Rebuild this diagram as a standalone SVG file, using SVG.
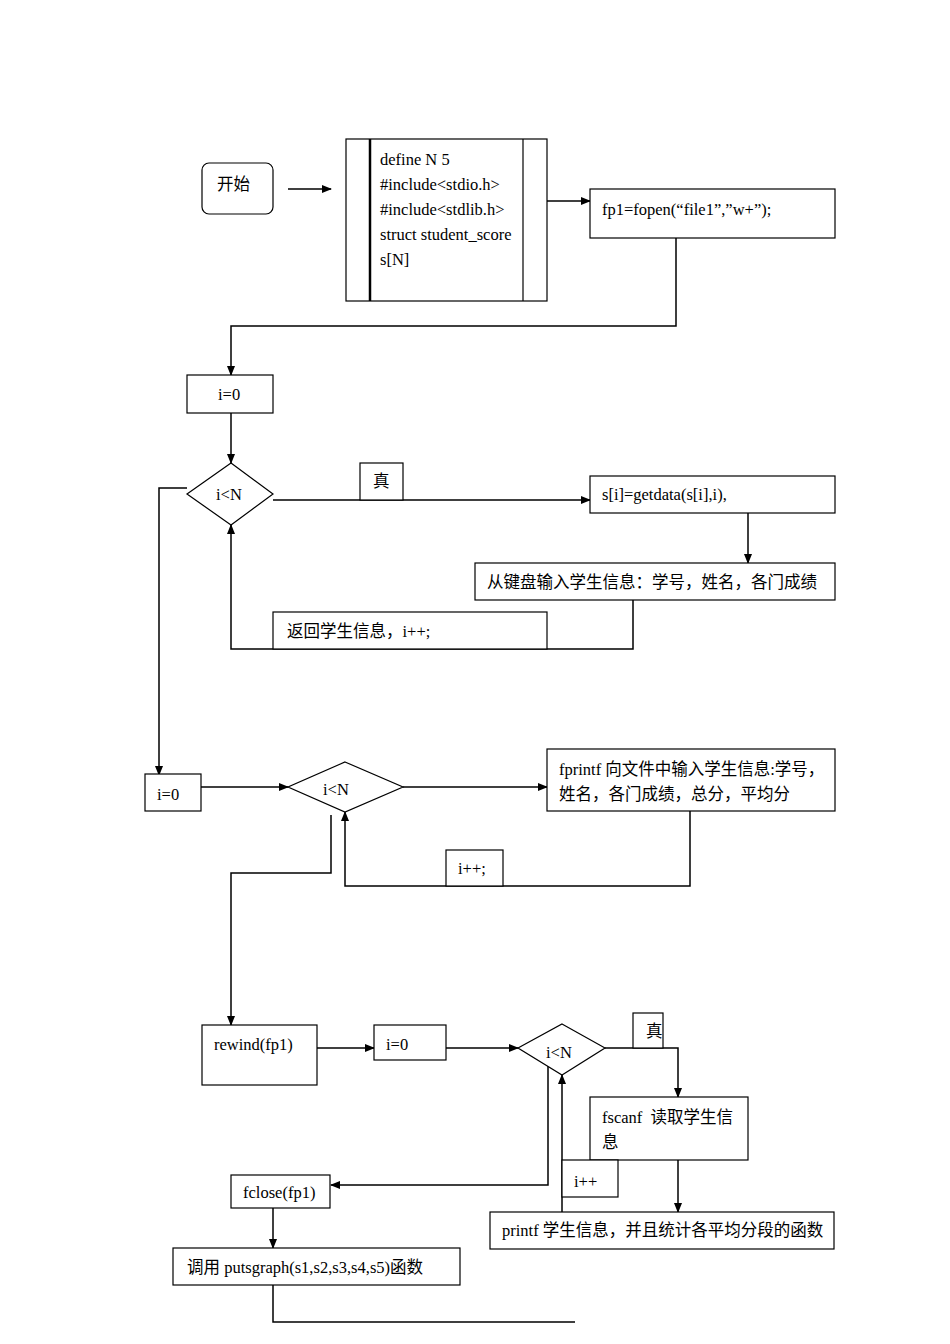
<svg xmlns="http://www.w3.org/2000/svg" width="950" height="1344" viewBox="0 0 950 1344">
<defs>
<marker id="ah" markerWidth="10" markerHeight="8" refX="9" refY="4" orient="auto" markerUnits="userSpaceOnUse"><path d="M0,0 L10,4 L0,8 z" fill="#000"/></marker>
<style>
.b{fill:#fff;stroke:#000;stroke-width:1.2}
.l{fill:none;stroke:#000;stroke-width:1.5}
.a{fill:none;stroke:#000;stroke-width:1.5;marker-end:url(#ah)}
text{font-family:"Liberation Serif","Noto Sans CJK SC",serif;font-size:16.5px;fill:#000}
</style>
</defs>
<rect width="950" height="1344" fill="#fff"/>
<g id="connectors">
<path class="a" d="M288,189 H331"/>
<path class="a" d="M547,201 H590"/>
<path class="a" d="M676,238 V326 H231 V375"/>
<path class="a" d="M231,413 V463"/>
<path class="a" d="M273,500 H590"/>
<path class="a" d="M748,513 V563"/>
<path class="a" d="M633,600 V649 H231 V525"/>
<path class="a" d="M187,488 H159 V775"/>
<path class="a" d="M201,787 H288"/>
<path class="a" d="M403,787 H547"/>
<path class="a" d="M690,811 V886 H345 V812"/>
<path class="a" d="M331,815 V873 H231 V1025"/>
<path class="a" d="M317,1048 H374"/>
<path class="a" d="M446,1048 H518"/>
<path class="a" d="M605,1048 H678 V1097"/>
<path class="a" d="M678,1160 V1212"/>
<path class="a" d="M562,1212 V1075"/>
<path class="a" d="M548,1065 V1185 H331"/>
<path class="a" d="M273,1208 V1248"/>
<path class="l" d="M273,1285 V1322 H575"/>
</g>
<g id="start"><rect class="b" x="202" y="163" width="71" height="51" rx="7"/><text x="217" y="190">开始</text></g>
<g id="defs-box"><rect class="b" x="346" y="139" width="201" height="162"/><line x1="370" y1="139" x2="370" y2="301" stroke="#000" stroke-width="2.5"/><line x1="523" y1="139" x2="523" y2="301" stroke="#000" stroke-width="1.2"/>
<text x="380" y="165">define N 5</text><text x="380" y="190">#include&lt;stdio.h&gt;</text><text x="380" y="215">#include&lt;stdlib.h&gt;</text><text x="380" y="240">struct student_score</text><text x="380" y="265">s[N]</text></g>
<g id="fopen"><rect class="b" x="590" y="189" width="245" height="49"/><text x="602" y="215">fp1=fopen(“file1”,”w+”);</text></g>
<g id="i0a"><rect class="b" x="187" y="375" width="86" height="38"/><text x="218" y="400">i=0</text></g>
<g id="d1"><polygon class="b" points="231,463 273,494 231,525 187,494"/><text x="216" y="500">i&lt;N</text></g>
<g id="t1"><rect class="b" x="360" y="463" width="43" height="37"/><text x="373" y="487">真</text></g>
<g id="getdata"><rect class="b" x="590" y="476" width="245" height="37"/><text x="602" y="500">s[i]=getdata(s[i],i),</text></g>
<g id="kbd"><rect class="b" x="475" y="563" width="360" height="37"/><text x="487" y="588">从键盘输入学生信息：学号，姓名，各门成绩</text></g>
<g id="ret"><rect class="b" x="273" y="612" width="274" height="37"/><text x="287" y="637">返回学生信息，i++;</text></g>
<g id="i0b"><rect class="b" x="145" y="774" width="56" height="37"/><text x="157" y="800">i=0</text></g>
<g id="d2"><polygon class="b" points="345,762 403,787 345,812 288,787"/><text x="323" y="795">i&lt;N</text></g>
<g id="fprintf"><rect class="b" x="547" y="749" width="288" height="62"/><text x="559" y="775">fprintf 向文件中输入学生信息:学号，</text><text x="559" y="800">姓名，各门成绩，总分，平均分</text></g>
<g id="inc2"><rect class="b" x="446" y="850" width="57" height="36"/><text x="458" y="874">i++;</text></g>
<g id="rewind"><rect class="b" x="202" y="1025" width="115" height="60"/><text x="214" y="1050">rewind(fp1)</text></g>
<g id="i0c"><rect class="b" x="374" y="1025" width="72" height="35"/><text x="386" y="1050">i=0</text></g>
<g id="d3"><polygon class="b" points="562,1024 605,1048 562,1075 518,1048"/><text x="546" y="1058">i&lt;N</text></g>
<g id="t3"><rect class="b" x="633" y="1013" width="30" height="35"/><text x="646" y="1037">真</text></g>
<g id="fscanf"><rect class="b" x="590" y="1097" width="158" height="63"/><text x="602" y="1123" xml:space="preserve">fscanf  读取学生信</text><text x="602" y="1148">息</text></g>
<g id="inc3"><rect class="b" x="562" y="1160" width="56" height="37"/><text x="574" y="1187">i++</text></g>
<g id="printf"><rect class="b" x="490" y="1212" width="344" height="37"/><text x="502" y="1236">printf 学生信息，并且统计各平均分段的函数</text></g>
<g id="fclose"><rect class="b" x="231" y="1175" width="99" height="33"/><text x="243" y="1198">fclose(fp1)</text></g>
<g id="puts"><rect class="b" x="173" y="1248" width="287" height="37"/><text x="187" y="1273">调用 putsgraph(s1,s2,s3,s4,s5)函数</text></g>
</svg>
